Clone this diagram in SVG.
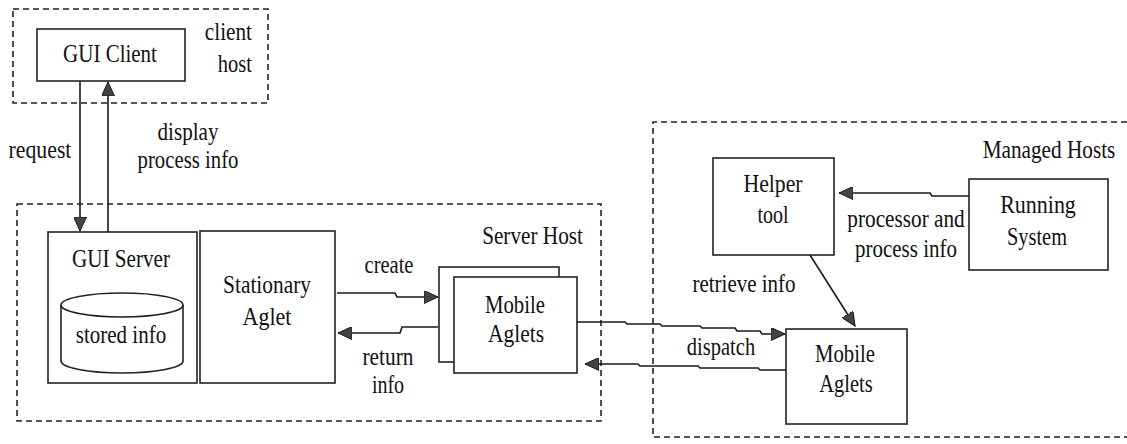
<svg xmlns="http://www.w3.org/2000/svg" width="1127" height="444" viewBox="0 0 1127 444">
  <style>
    .host { fill: none; stroke: #222; stroke-width: 1.6; stroke-dasharray: 6 4; }
    .box { fill: #fff; stroke: #222; stroke-width: 1.6; }
    .wire { fill: none; stroke: #1a1a1a; stroke-width: 1.6; }
    .c { text-anchor: middle; }
    .r { text-anchor: end; }
  </style>
  <defs>
    <marker id="arrow" markerUnits="userSpaceOnUse" markerWidth="15" markerHeight="13" refX="14" refY="6.5" orient="auto">
      <path d="M0,0 L14,6.5 L0,13 Z" fill="#444" stroke="#1a1a1a" stroke-width="1"/>
    </marker>
  </defs>

  <rect width="1127" height="444" fill="#fff"/>

  <!-- labels use a narrowed serif face: each text is squeezed horizontally -->
  <g font-family="Liberation Serif, Times New Roman, DejaVu Serif, serif" font-size="25" fill="#111">
  <!-- host boundaries -->
  <g id="client-host">
    <rect class="host" x="13" y="9" width="255" height="94"/>
    <text class="r" transform="translate(252,40) scale(0.85,1)">client</text>
    <text class="r" transform="translate(252,72) scale(0.82,1)">host</text>
  </g>
  <g id="server-host">
    <rect class="host" x="17" y="204" width="584" height="217"/>
    <text class="r" transform="translate(583,244) scale(0.85,1)">Server Host</text>
  </g>
  <g id="managed-hosts">
    <!-- open on the right: the boundary runs past the page edge -->
    <path class="host" d="M1127,122 L653,122 L653,437 L1127,437"/>
    <text class="c" transform="translate(1049,158) scale(0.85,1)">Managed Hosts</text>
  </g>

  <!-- nodes -->
  <g id="gui-client">
    <rect class="box" x="37" y="29" width="148" height="52"/>
    <text class="c" transform="translate(110,62) scale(0.84,1)">GUI Client</text>
  </g>
  <g id="gui-server">
    <rect class="box" x="48" y="232" width="149" height="151"/>
    <text class="c" transform="translate(121,267) scale(0.845,1)">GUI Server</text>
  </g>
  <g id="stored-info">
    <path class="box" d="M61,305 L61,361 A61,12 0 0 0 183,361 L183,305 A61,12 0 0 0 61,305 Z"/>
    <path class="wire" d="M61,305 A61,12 0 0 0 183,305"/>
    <text class="c" transform="translate(121,343) scale(0.84,1)">stored info</text>
  </g>
  <g id="stationary-aglet">
    <rect class="box" x="200" y="231" width="135" height="152"/>
    <text class="c" transform="translate(267,293) scale(0.856,1)">Stationary</text>
    <text class="c" transform="translate(267,325) scale(0.88,1)">Aglet</text>
  </g>
  <g id="server-mobile-aglets">
    <rect class="box" x="439" y="267" width="120" height="95"/>
    <rect class="box" x="454" y="277" width="123" height="96"/>
    <text class="c" transform="translate(515,313) scale(0.83,1)">Mobile</text>
    <text class="c" transform="translate(516,342) scale(0.86,1)">Aglets</text>
  </g>
  <g id="helper-tool">
    <rect class="box" x="713" y="158" width="121" height="97"/>
    <text class="c" transform="translate(773,192) scale(0.87,1)">Helper</text>
    <text class="c" transform="translate(773,223) scale(0.8,1)">tool</text>
  </g>
  <g id="running-system">
    <rect class="box" x="969" y="179" width="139" height="91"/>
    <text class="c" transform="translate(1038,213) scale(0.88,1)">Running</text>
    <text class="c" transform="translate(1037,245) scale(0.815,1)">System</text>
  </g>
  <g id="managed-mobile-aglets">
    <rect class="box" x="786" y="329" width="121" height="95"/>
    <text class="c" transform="translate(845,362) scale(0.83,1)">Mobile</text>
    <text class="c" transform="translate(846,392) scale(0.82,1)">Aglets</text>
  </g>

  <!-- connectors -->
  <g id="connectors">
    <polyline class="wire" marker-end="url(#arrow)" points="80,81 80,231"/>
    <polyline class="wire" marker-end="url(#arrow)" points="108,232 108,82"/>
    <polyline class="wire" marker-end="url(#arrow)" points="337,293 395,293 397,297 438,297"/>
    <polyline class="wire" marker-end="url(#arrow)" points="438,327 402,327 400,333 338,333"/>
    <polyline class="wire" marker-end="url(#arrow)" points="577,322 625,322 627,324 660,324 662,326 700,326 702,328 735,328 737,331 760,331 762,334 785,334"/>
    <polyline class="wire" marker-end="url(#arrow)" points="786,370 760,370 758,368 700,368 698,366 640,366 638,364 585,364"/>
    <polyline class="wire" marker-end="url(#arrow)" points="969,196 932,196 930,193 839,193"/>
    <polyline class="wire" marker-end="url(#arrow)" points="810,255 855,326"/>

    <text class="c" transform="translate(40,158) scale(0.87,1)">request</text>
    <text class="c" transform="translate(188,140) scale(0.845,1)">display</text>
    <text class="c" transform="translate(188,168) scale(0.83,1)">process info</text>
    <text class="c" transform="translate(389,273) scale(0.82,1)">create</text>
    <text class="c" transform="translate(388,365) scale(0.855,1)">return</text>
    <text class="c" transform="translate(388,393) scale(0.8,1)">info</text>
    <text class="c" transform="translate(721,355) scale(0.82,1)">dispatch</text>
    <text class="c" transform="translate(744,292) scale(0.84,1)">retrieve info</text>
    <text class="c" transform="translate(906,227) scale(0.85,1)">processor and</text>
    <text class="c" transform="translate(906,257) scale(0.84,1)">process info</text>
  </g>
  </g>
</svg>
